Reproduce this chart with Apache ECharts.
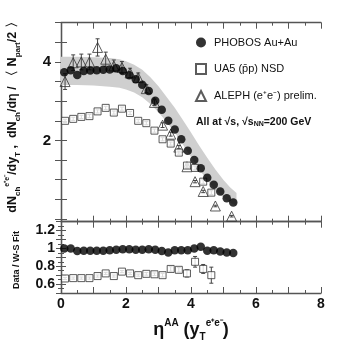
<!DOCTYPE html>
<html>
<head>
<meta charset="utf-8">
<script src="https://cdn.jsdelivr.net/npm/echarts@6/dist/echarts.min.js"></script>
<style>
  html, body { margin: 0; padding: 0; background: #fff; }
  #chart { width: 357px; height: 343px; }
</style>
</head>
<body>
<div id="chart"></div>
<script>
var phobosEta = [0.1, 0.3, 0.5, 0.7, 0.9, 1.1, 1.3, 1.5, 1.7, 1.9, 2.1, 2.3, 2.5, 2.7, 2.9, 3.1, 3.3, 3.5, 3.7, 3.9, 4.1, 4.3, 4.5, 4.7, 4.9, 5.1, 5.3];
var phobosVal = [3.74, 3.79, 3.67, 3.77, 3.78, 3.79, 3.80, 3.81, 3.84, 3.77, 3.66, 3.56, 3.42, 3.26, 3.01, 2.78, 2.50, 2.28, 2.03, 1.74, 1.50, 1.29, 1.05, 0.87, 0.70, 0.53, 0.42];
var phobosRatio = [1.00, 1.00, 0.97, 0.975, 0.975, 0.975, 0.975, 0.98, 0.985, 0.99, 0.99, 0.985, 0.985, 0.99, 0.985, 0.97, 0.955, 0.98, 0.98, 0.98, 1.00, 1.02, 0.975, 0.98, 0.965, 0.955, 0.95];

// systematic band around the PHOBOS points
var bandEta = [0, 0.5, 1.0, 1.5, 1.8, 2.0, 2.25, 2.5, 2.75, 3.0, 3.25, 3.5, 3.75, 4.0, 4.25, 4.5, 4.75, 5.0, 5.2, 5.4];
var bandHigh = [4.13, 4.13, 4.12, 4.10, 4.07, 4.02, 3.93, 3.80, 3.61, 3.38, 3.11, 2.83, 2.52, 2.20, 1.87, 1.56, 1.26, 0.99, 0.81, 0.66];
var bandLow = [3.41, 3.41, 3.40, 3.37, 3.34, 3.30, 3.22, 3.10, 2.93, 2.72, 2.47, 2.20, 1.90, 1.58, 1.27, 0.98, 0.74, 0.54, 0.42, 0.33];

var ua5Eta = [0.125, 0.375, 0.625, 0.875, 1.125, 1.375, 1.625, 1.875, 2.125, 2.375, 2.625, 2.875, 3.125, 3.375, 3.625, 3.875, 4.125, 4.375, 4.625];
var ua5Val = [2.50, 2.55, 2.60, 2.62, 2.74, 2.83, 2.71, 2.81, 2.70, 2.50, 2.44, 2.25, 2.03, 1.92, 1.69, 1.36, 1.30, 0.95, 0.67];
var ua5Err = [0.04, 0.04, 0.04, 0.04, 0.04, 0.04, 0.04, 0.04, 0.04, 0.04, 0.04, 0.04, 0.04, 0.04, 0.04, 0.04, 0.05, 0.05, 0.05];
var ua5Ratio = [0.663, 0.667, 0.667, 0.667, 0.69, 0.72, 0.69, 0.74, 0.72, 0.70, 0.715, 0.71, 0.70, 0.77, 0.76, 0.72, 0.85, 0.77, 0.70];
var ua5RatioErr = [0.012, 0.012, 0.012, 0.012, 0.012, 0.012, 0.012, 0.012, 0.012, 0.012, 0.015, 0.015, 0.02, 0.025, 0.025, 0.04, 0.06, 0.05, 0.09];

var alephY = [0.125, 0.375, 0.625, 0.875, 1.125, 1.375, 1.625, 1.875, 2.125, 2.375, 2.625, 2.875, 3.125, 3.375, 3.625, 3.875, 4.125, 4.375, 4.75, 5.25];
var alephVal = [3.50, 3.98, 4.00, 4.00, 4.37, 4.07, 3.90, 3.86, 3.72, 3.60, 3.32, 2.97, 2.39, 2.16, 1.83, 1.33, 0.95, 0.70, 0.33, 0.07];
var alephErr = [0.2, 0.2, 0.2, 0.2, 0.22, 0.18, 0.15, 0.15, 0.12, 0.12, 0.1, 0.08, 0.06, 0.05, 0.04, 0.04, 0.03, 0.03, 0.02, 0.02];

var topTicks = [0, 0.5, 1, 1.5, 2, 2.5, 3, 3.5, 4, 4.5, 5];
var topLabels = [2, 4];
var ratioLabels = [0.6, 0.8, 1, 1.2];
var xLabels = [0, 2, 4, 6, 8];

var myChart = echarts.init(document.getElementById('chart'));
var FONT = 'Liberation Sans';
var AX = '#555';

function pairs(xs, ys) {
    return xs.map(function (x, i) { return [x, ys[i]]; });
}
function errData(xs, ys, es) {
    return xs.map(function (x, i) { return [x, ys[i] - es[i], ys[i] + es[i]]; });
}
function errRender(params, api) {
    var top = api.coord([api.value(0), api.value(2)]);
    var bot = api.coord([api.value(0), api.value(1)]);
    var c = 2;
    var st = { stroke: '#444', lineWidth: 1 };
    return {
        type: 'group',
        children: [
            { type: 'line', shape: { x1: top[0], y1: top[1], x2: bot[0], y2: bot[1] }, style: st },
            { type: 'line', shape: { x1: top[0] - c, y1: top[1], x2: top[0] + c, y2: top[1] }, style: st },
            { type: 'line', shape: { x1: bot[0] - c, y1: bot[1], x2: bot[0] + c, y2: bot[1] }, style: st }
        ]
    };
}

function xAx(grid, pos, labels) {
    return {
        type: 'value', gridIndex: grid, position: pos, min: 0, max: 8, interval: 1,
        axisLine: { show: true, onZero: false, lineStyle: { color: AX, width: 1.3 } },
        axisTick: { inside: true, length: 6, lineStyle: { color: AX } },
        minorTick: { show: true, splitNumber: 2, length: 3, lineStyle: { color: AX } },
        splitLine: { show: false },
        axisLabel: labels ? {
            show: true, margin: 4, fontFamily: FONT, fontWeight: 'bold', fontSize: 14, color: '#111',
            customValues: xLabels
        } : { show: false }
    };
}

option = {
    backgroundColor: '#fff',
    animation: false,
    grid: [
        { left: 61, top: 22.7, width: 260, height: 199 },
        { left: 61, top: 221.7, width: 260, height: 71.3 }
    ],
    xAxis: [xAx(0, 'bottom', false), xAx(0, 'top', false), xAx(1, 'bottom', true), xAx(1, 'top', false)],
    yAxis: [
        {
            type: 'value', gridIndex: 0, min: -0.07, max: 5.0, position: 'left',
            axisLine: { show: true, lineStyle: { color: AX, width: 1.3 } },
            axisTick: { inside: true, length: 6, customValues: topTicks, lineStyle: { color: AX } },
            splitLine: { show: false },
            axisLabel: { customValues: topLabels, margin: 10, fontFamily: FONT, fontWeight: 'bold', fontSize: 15, color: '#111' }
        },
        {
            type: 'value', gridIndex: 0, min: -0.07, max: 5.0, position: 'right',
            axisLine: { show: true, lineStyle: { color: AX, width: 1.3 } },
            axisTick: { inside: true, length: 6, customValues: topTicks, lineStyle: { color: AX } },
            splitLine: { show: false },
            axisLabel: { show: false }
        },
        {
            type: 'value', gridIndex: 1, min: 0.5, max: 1.3, interval: 0.1, position: 'left',
            axisLine: { show: true, lineStyle: { color: AX, width: 1.3 } },
            axisTick: { inside: true, length: 5, lineStyle: { color: AX } },
            minorTick: { show: true, splitNumber: 2, length: 3, lineStyle: { color: AX } },
            splitLine: { show: false },
            axisLabel: { customValues: ratioLabels, margin: 6, fontFamily: FONT, fontWeight: 'bold', fontSize: 14, color: '#111' }
        },
        {
            type: 'value', gridIndex: 1, min: 0.5, max: 1.3, interval: 0.1, position: 'right',
            axisLine: { show: true, lineStyle: { color: AX, width: 1.3 } },
            axisTick: { inside: true, length: 5, lineStyle: { color: AX } },
            minorTick: { show: true, splitNumber: 2, length: 3, lineStyle: { color: AX } },
            splitLine: { show: false },
            axisLabel: { show: false }
        }
    ],
    legend: {
        data: ['PHOBOS Au+Au', 'UA5 (p\u0304p) NSD', 'ALEPH (e\u207Ae\u207B) prelim.'],
        orient: 'vertical', left: 190, top: 32, itemGap: 15,
        itemWidth: 10, itemHeight: 10,
        textStyle: { fontFamily: FONT, fontSize: 11, color: '#111', padding: [0, 0, 0, 3] }
    },
    graphic: [
        {
            type: 'text', x: 196, y: 122,
            style: {
                text: 'All at \u221As, \u221As{sub|NN}=200 GeV',
                fontFamily: FONT, fontWeight: 'bold', fontSize: 10.5, fill: '#111',
                verticalAlign: 'middle',
                rich: { sub: { fontFamily: FONT, fontWeight: 'bold', fontSize: 7, verticalAlign: 'bottom', fill: '#111' } }
            }
        },
        {
            type: 'text', x: 13, y: 114, rotation: Math.PI / 2,
            style: {
                text: 'dN{sub|ch}{sup|e\u207Ae\u207B}/dy{sub|T} ,  dN{sub|ch}/d\u03B7 / \u3008 N{sub|part}/2 \u3009',
                fontFamily: FONT, fontWeight: 'bold', fontSize: 12.5, fill: '#111',
                align: 'center', verticalAlign: 'middle',
                rich: {
                    sub: { fontFamily: FONT, fontWeight: 'bold', fontSize: 8, verticalAlign: 'bottom', lineHeight: 18, fill: '#111' },
                    sup: { fontFamily: FONT, fontWeight: 'bold', fontSize: 7, verticalAlign: 'top', lineHeight: 18, fill: '#111' }
                }
            }
        },
        {
            type: 'text', x: 17, y: 260, rotation: Math.PI / 2,
            style: {
                text: 'Data / W-S Fit',
                fontFamily: FONT, fontWeight: 'bold', fontSize: 9, fill: '#111',
                align: 'center', verticalAlign: 'middle'
            }
        },
        {
            type: 'text', x: 191, y: 330,
            style: {
                text: '\u03B7{sup|AA} (y{sub|T}{sup|e\u207Ae\u207B})',
                fontFamily: FONT, fontWeight: 'bold', fontSize: 18, fill: '#111',
                align: 'center', verticalAlign: 'middle',
                rich: {
                    sup: { fontFamily: FONT, fontWeight: 'bold', fontSize: 10, verticalAlign: 'top', lineHeight: 24, fill: '#111' },
                    sub: { fontFamily: FONT, fontWeight: 'bold', fontSize: 10, verticalAlign: 'bottom', lineHeight: 24, fill: '#111' }
                }
            }
        }
    ],
    series: [
        {
            name: 'band', type: 'custom', xAxisIndex: 0, yAxisIndex: 0, z: 1,
            data: [[0, 0]],
            renderItem: function (params, api) {
                var pts = [];
                for (var i = 0; i < bandEta.length; i++) pts.push(api.coord([bandEta[i], bandHigh[i]]));
                for (var j = bandEta.length - 1; j >= 0; j--) pts.push(api.coord([bandEta[j], bandLow[j]]));
                return { type: 'polygon', shape: { points: pts }, style: { fill: '#cfcfcf', stroke: null } };
            }
        },
        {
            name: 'aleph-err', type: 'custom', xAxisIndex: 0, yAxisIndex: 0, z: 3,
            data: errData(alephY, alephVal, alephErr), renderItem: errRender
        },
        {
            name: 'ua5-err', type: 'custom', xAxisIndex: 0, yAxisIndex: 0, z: 3,
            data: errData(ua5Eta, ua5Val, ua5Err), renderItem: errRender
        },
        {
            name: 'ALEPH (e\u207Ae\u207B) prelim.', type: 'scatter', xAxisIndex: 0, yAxisIndex: 0, z: 4,
            symbol: 'triangle', symbolSize: 10,
            itemStyle: { color: 'rgba(255,255,255,0)', borderColor: '#333', borderWidth: 1 },
            data: pairs(alephY, alephVal)
        },
        {
            name: 'UA5 (p\u0304p) NSD', type: 'scatter', xAxisIndex: 0, yAxisIndex: 0, z: 4,
            symbol: 'rect', symbolSize: 7,
            itemStyle: { color: '#fff', borderColor: '#333', borderWidth: 1 },
            data: pairs(ua5Eta, ua5Val)
        },
        {
            name: 'PHOBOS Au+Au', type: 'scatter', xAxisIndex: 0, yAxisIndex: 0, z: 5,
            symbol: 'circle', symbolSize: 8.5,
            itemStyle: { color: '#000' },
            data: pairs(phobosEta, phobosVal)
        },
        {
            name: 'ua5-ratio-err', type: 'custom', xAxisIndex: 2, yAxisIndex: 2, z: 3,
            data: errData(ua5Eta, ua5Ratio, ua5RatioErr), renderItem: errRender
        },
        {
            name: 'ua5-ratio', type: 'scatter', xAxisIndex: 2, yAxisIndex: 2, z: 4,
            symbol: 'rect', symbolSize: 7,
            itemStyle: { color: '#fff', borderColor: '#333', borderWidth: 1 },
            data: pairs(ua5Eta, ua5Ratio)
        },
        {
            name: 'phobos-ratio', type: 'scatter', xAxisIndex: 2, yAxisIndex: 2, z: 5,
            symbol: 'circle', symbolSize: 8.5,
            itemStyle: { color: '#000' },
            data: pairs(phobosEta, phobosRatio)
        }
    ]
};

myChart.setOption(option);
</script>
</body>
</html>
